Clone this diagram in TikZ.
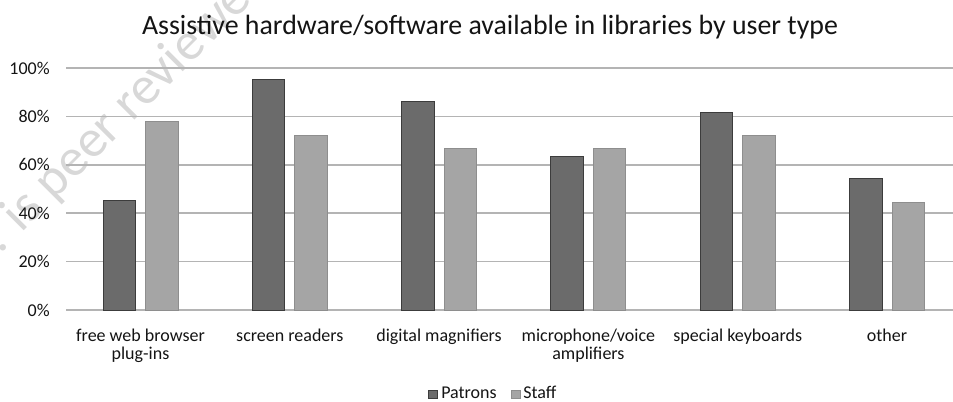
\documentclass[tikz,border=0pt]{standalone}
\usepackage{fontspec}
\setmainfont{Carlito}
\definecolor{patrongray}{HTML}{6B6B6B}
\definecolor{patronedge}{HTML}{3C3C3C}
\definecolor{staffgray}{HTML}{A5A5A5}
\definecolor{staffedge}{HTML}{8E8E8E}
\definecolor{gridgray}{HTML}{B4B4B4}
\definecolor{textgray}{HTML}{141414}
\definecolor{wmgray}{HTML}{D8D8D8}
\begin{document}
\begin{tikzpicture}[x=0.75pt, y=0.75pt,
  patronbar/.style={fill=patrongray, draw=patronedge, line width=0.7pt},
  staffbar/.style={fill=staffgray, draw=staffedge, line width=0.7pt},
  gridline/.style={draw=gridgray, line width=1.1pt},
  ticklabel/.style={anchor=east, inner sep=0pt, text=textgray, font=\fontsize{13.5}{15}\selectfont},
  catlabel/.style={anchor=base, inner sep=0pt, text=textgray, font=\fontsize{13.5}{15}\selectfont}]
% Page size in pixels of the reference
\useasboundingbox (0, 0) rectangle (953, 402);
\clip (0, 0) rectangle (953, 402);

% Watermark
\node[rotate=45, inner sep=0pt, text=wmgray, font=\fontsize{40}{40}\selectfont] (wmark) at (119, 286) {c. is peer reviewed};

% Title
\node[anchor=base, inner sep=0pt, text=textgray, font=\fontsize{20.9}{23}\selectfont] (title) at (490, 367) {Assistive hardware/software available in libraries by user type};

% Horizontal grid lines, 20% apart
\draw[gridline] (66, 92) -- (953, 92);
\draw[gridline] (66, 140.4) -- (953, 140.4);
\draw[gridline] (66, 188.8) -- (953, 188.8);
\draw[gridline] (66, 237.2) -- (953, 237.2);
\draw[gridline] (66, 285.6) -- (953, 285.6);
\draw[gridline] (66, 334) -- (953, 334);

% Axis labels
\node[ticklabel] (pct0) at (50, 92) {0\%};
\node[ticklabel] (pct20) at (50, 140.4) {20\%};
\node[ticklabel] (pct40) at (50, 188.8) {40\%};
\node[ticklabel] (pct60) at (50, 237.2) {60\%};
\node[ticklabel] (pct80) at (50, 285.6) {80\%};
\node[ticklabel] (pct100) at (50, 334) {100\%};

% Bars: Patrons (dark) and Staff (light)
\draw[patronbar] (103.0, 92) rectangle +(32.5, 110.0);
\draw[staffbar] (145.5, 92) rectangle +(32.5, 188.2);
\draw[patronbar] (252.3, 92) rectangle +(32.5, 231.0);
\draw[staffbar] (294.8, 92) rectangle +(32.5, 174.8);
\draw[patronbar] (401.6, 92) rectangle +(32.5, 209.0);
\draw[staffbar] (444.1, 92) rectangle +(32.5, 161.3);
\draw[patronbar] (550.9, 92) rectangle +(32.5, 154.0);
\draw[staffbar] (593.4, 92) rectangle +(32.5, 161.3);
\draw[patronbar] (700.2, 92) rectangle +(32.5, 198.0);
\draw[staffbar] (742.7, 92) rectangle +(32.5, 174.8);
\draw[patronbar] (849.5, 92) rectangle +(32.5, 132.0);
\draw[staffbar] (892.0, 92) rectangle +(32.5, 107.6);

% Category labels
\node[catlabel] (cat1) at (140.5, 60.5) {free web browser};
\node[catlabel] (cat1b) at (140.5, 42) {plug-ins};
\node[catlabel] (cat2) at (289.8, 60.5) {screen readers};
\node[catlabel] (cat3) at (439.1, 60.5) {digital magnifiers};
\node[catlabel] (cat4) at (588.4, 60.5) {microphone/voice};
\node[catlabel] (cat4b) at (588.4, 42) {amplifiers};
\node[catlabel] (cat5) at (737.7, 60.5) {special keyboards};
\node[catlabel] (cat6) at (887.0, 60.5) {other};

% Legend
\draw[patronbar] (428.5, 3.5) rectangle +(9, 8);
\node[catlabel, anchor=base west] (legpatrons) at (441, 3.5) {Patrons};
\draw[staffbar] (511, 3.5) rectangle +(9, 8);
\node[catlabel, anchor=base west] (legstaff) at (523, 3.5) {Staff};
\end{tikzpicture}
\end{document}
